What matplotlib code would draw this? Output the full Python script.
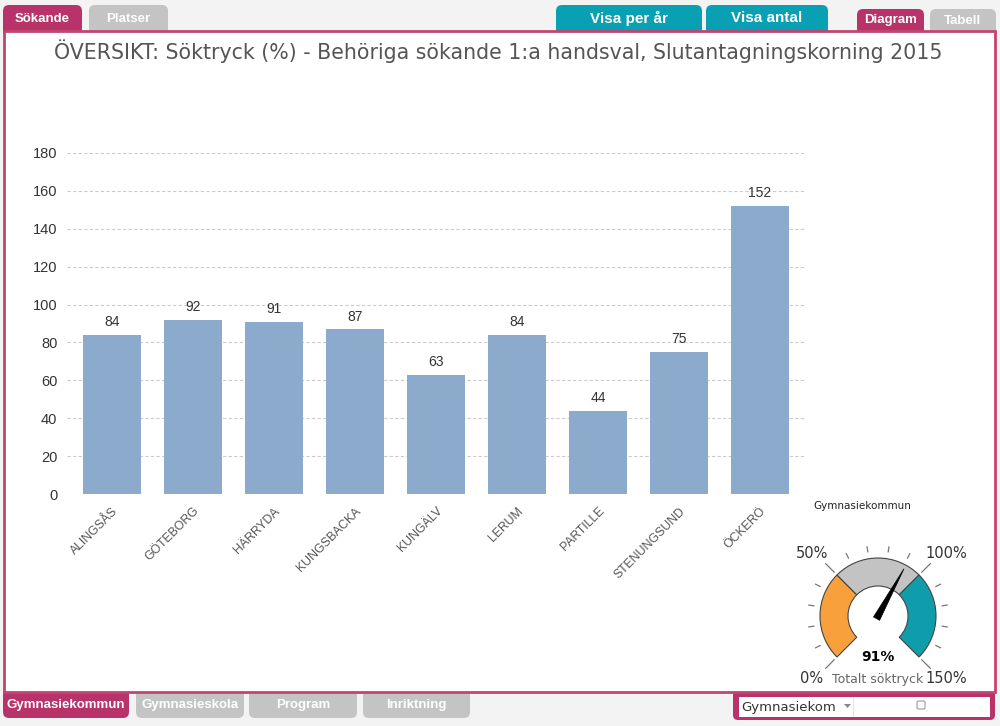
import numpy as np
import matplotlib
matplotlib.use('Agg')
import matplotlib.pyplot as plt
from matplotlib.patches import FancyBboxPatch, Rectangle, Wedge, Polygon

# data
kommuner = ['ALINGSÅS', 'GÖTEBORG', 'HÄRRYDA', 'KUNGSBACKA', 'KUNGÄLV',
            'LERUM', 'PARTILLE', 'STENUNGSUND', 'ÖCKERÖ']
soktryck = [84, 92, 91, 87, 63, 84, 44, 75, 152]
y_ticks = [0, 20, 40, 60, 80, 100, 120, 140, 160, 180]
totalt = 91
gauge_bands = [(0, 50, '#f7a03c'), (50, 100, '#c3c3c3'), (100, 150, '#0f9cab')]
gauge_labels = [0, 50, 100, 150]

title = 'ÖVERSIKT: Söktryck (%) - Behöriga sökande 1:a handsval, Slutantagningskorning 2015'
top_tabs = [('Sökande', 3, 82, 5, '#b8336a'), ('Platser', 89, 168, 5, '#c4c4c4'),
            ('Visa per år', 556, 702, 5, '#0aa0b4'), ('Visa antal', 706, 828, 5, '#0aa0b4'),
            ('Diagram', 857, 924, 9, '#b8336a'), ('Tabell', 930, 996, 9, '#c4c4c4')]
bottom_tabs = [('Gymnasiekommun', 3, 129, '#b8336a'), ('Gymnasieskola', 136, 244, '#c4c4c4'),
               ('Program', 249, 357, '#c4c4c4'), ('Inriktning', 363, 470, '#c4c4c4')]

W, H = 1000, 726
PINK = '#b8336a'
fig = plt.figure(figsize=(W / 100, H / 100), dpi=100)
fig.patch.set_facecolor('#f3f3f3')

# background axes in pixel units (y up)
bg = fig.add_axes([0, 0, 1, 1])
bg.set_xlim(0, W)
bg.set_ylim(0, H)
bg.axis('off')

def Y(y):
    return H - y

def tab(x0, x1, y0, y1, color, label, ty, fs=9.5):
    bg.add_patch(FancyBboxPatch((x0, Y(y1)), x1 - x0, y1 - y0,
                                boxstyle='round,pad=0,rounding_size=6',
                                fc=color, ec='none', zorder=1))
    bg.text((x0 + x1) / 2, Y(ty), label, color='white', fontsize=fs,
            fontweight='bold', family='Liberation Sans', ha='center', va='center', zorder=3)

for label, x0, x1, y0, col in top_tabs:
    fs = 11 if 'Visa' in label else 9.5
    tab(x0, x1, y0, 36, col, label, (y0 + 31) / 2 + 0.5, fs)

for label, x0, x1, col in bottom_tabs:
    tab(x0, x1, 688, 718, col, label, 705, 9.5)

# main panel
bg.add_patch(Rectangle((4, Y(692)), 991, 661, fc='white', ec='#c2456f', lw=2, zorder=2))

# bottom-right selector box
bg.add_patch(FancyBboxPatch((733, Y(720)), 262, 30, boxstyle='round,pad=0,rounding_size=5',
                            fc=PINK, ec='none', zorder=1.5))
bg.add_patch(Rectangle((739, Y(717)), 251, 20, fc='white', ec='none', zorder=3))
bg.add_patch(Rectangle((853, Y(717)), 1, 20, fc='#e6e6e6', ec='none', zorder=3))
bg.text(741, Y(707), 'Gymnasiekom', fontsize=9.5, color='#333333', family='DejaVu Sans',
        ha='left', va='center', zorder=4)
bg.add_patch(Polygon([[844, Y(704)], [851, Y(704)], [847.5, Y(708)]], fc='#888888', ec='none', zorder=4))
bg.add_patch(FancyBboxPatch((917, Y(709)), 8, 8, boxstyle='round,pad=0,rounding_size=1.5',
                            fc='white', ec='#999999', lw=0.8, zorder=4))

# title
bg.text(498, Y(51), title, fontsize=14.8, color='#555555', family='DejaVu Sans',
        ha='center', va='center', zorder=4)
bg.text(862, Y(506), 'Gymnasiekommun', fontsize=7.5, color='#222222', family='DejaVu Sans',
        ha='center', va='center', zorder=4)

# gauge
cx, cy = 878, Y(616)
R, r = 58, 30

def ang(v):
    return 225 - v * 1.8

for v0, v1, col in gauge_bands:
    bg.add_patch(Wedge((cx, cy), R, ang(v1), ang(v0), width=R - r, fc=col,
                       ec='#444444', lw=0.8, zorder=4))
for v in range(0, 151, 10):
    a = np.radians(ang(v))
    if v in gauge_labels:
        r0, r1 = 62, 74
    else:
        r0, r1 = 65, 70
    bg.plot([cx + r0 * np.cos(a), cx + r1 * np.cos(a)], [cy + r0 * np.sin(a), cy + r1 * np.sin(a)],
            color='#777777', lw=0.9, zorder=4)
for v in gauge_labels:
    a = np.radians(ang(v))
    dx = -4 if np.cos(a) < 0 else 6
    bg.text(cx + 88 * np.cos(a) + dx, cy + 88 * np.sin(a), f'{v}%', fontsize=10.5,
            color='#333333', family='DejaVu Sans', ha='center', va='center', zorder=5)

a = np.radians(ang(totalt))
ux, uy = np.cos(a), np.sin(a)
px, py = -uy, ux
needle = [[cx + 54 * ux, cy + 54 * uy],
          [cx - 3 * ux + 3.5 * px, cy - 3 * uy + 3.5 * py],
          [cx - 3 * ux - 3.5 * px, cy - 3 * uy - 3.5 * py]]
bg.add_patch(Polygon(needle, fc='black', ec='black', lw=0.5, zorder=6))
bg.text(cx, Y(657), f'{totalt}%', fontsize=10, fontweight='bold', color='black',
        family='DejaVu Sans', ha='center', va='center', zorder=5)
bg.text(cx, Y(679), 'Totalt söktryck', fontsize=9, color='#666666',
        family='DejaVu Sans', ha='center', va='center', zorder=5)

# bar chart
ax = fig.add_axes([67 / W, 1 - 494 / H, 738 / W, (494 - 153) / H])
ax.set_facecolor('none')
x = np.arange(len(kommuner))
bars = ax.bar(x, soktryck, width=0.72, color='#8caacb', zorder=2)
for b, v in zip(bars, soktryck):
    ax.annotate(str(v), (b.get_x() + b.get_width() / 2, v), xytext=(0, 4),
                textcoords='offset points', ha='center', va='bottom', fontsize=10,
                color='#333333', family='Liberation Sans')
ax.set_xlim(-0.556, 8.556)
ax.set_ylim(0, 180)
ax.set_yticks(y_ticks)
ax.yaxis.grid(True, ls=(0, (3, 2)), color='#cccccc', lw=0.8, zorder=0)
for s in ax.spines.values():
    s.set_visible(False)
ax.tick_params(length=0)
ax.tick_params(axis='y', labelsize=10.5, labelcolor='#333333', pad=7)
ax.set_xticks(x)
ax.set_xticklabels(kommuner, rotation=45, ha='right', rotation_mode='anchor',
                   fontsize=8.8, color='#555555', family='Liberation Sans')
ax.tick_params(axis='x', pad=8)
for t in ax.get_yticklabels():
    t.set_family('Liberation Sans')

fig.savefig('out.png', dpi=100, facecolor=fig.get_facecolor())
